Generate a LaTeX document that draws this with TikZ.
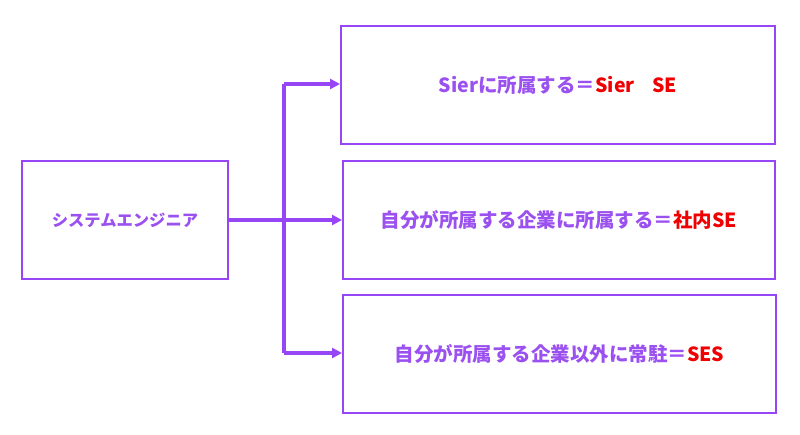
\documentclass[tikz,border=0pt]{standalone}
\usepackage{fontspec}
\setmainfont{Noto Sans CJK JP}
\usetikzlibrary{arrows.meta}
\definecolor{pline}{RGB}{150,70,245}
\definecolor{ptext}{RGB}{155,80,240}
\definecolor{rtext}{RGB}{240,0,0}
\tikzset{
  box/.style={draw=pline, line width=2pt, inner sep=0pt, anchor=north west, fill=white},
  conn/.style={draw=pline, line width=3.3pt, -{Triangle[length=10pt,width=10pt]}},
  trunk/.style={draw=pline, line width=3.3pt},
  lbl/.style={text=ptext, font=\bfseries\fontsize{19.5}{22}\selectfont},
}
\begin{document}
\begin{tikzpicture}[x=1pt,y=-1pt]
\useasboundingbox (0,0) rectangle (800,435);
% boxes
\node[box, minimum width=206pt, minimum height=118pt] (se) at (21,160) {};
\node[box, minimum width=434pt, minimum height=118pt] (sier) at (340,25) {};
\node[box, minimum width=432pt, minimum height=118pt] (inhouse) at (342,160) {};
\node[box, minimum width=433pt, minimum height=118pt] (ses) at (342,294) {};
% labels
\node[text=ptext, font=\bfseries\fontsize{16.3}{18}\selectfont] (tse) at (se.center) {システムエンジニア};
\node[lbl] (tsier) at (sier.center) {Sierに所属する＝\textcolor{rtext}{Sier\hspace{0.9em}SE}};
\node[lbl] (tin) at (inhouse.center) {自分が所属する企業に所属する＝\textcolor{rtext}{社内SE}};
\node[lbl] (tses) at (ses.center) {自分が所属する企業以外に常駐＝\textcolor{rtext}{SES}};
% connectors
\coordinate (jt) at (284,84);
\coordinate (jb) at (284,353);
\draw[trunk] (jt) -- (jb);
\draw[conn] (se.east) -- (inhouse.west);
\draw[conn] (jt) -- (jt -| sier.west);
\draw[conn] (jb) -- (jb -| ses.west);
\end{tikzpicture}
\end{document}
